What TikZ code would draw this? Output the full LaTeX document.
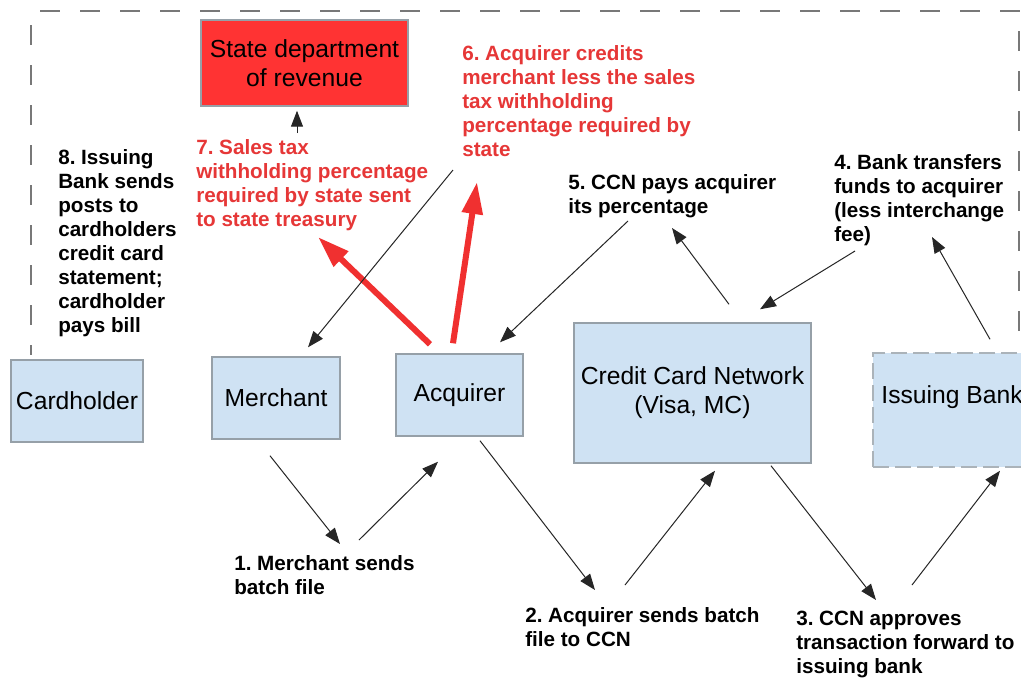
\documentclass[tikz,border=0pt]{standalone}
\usepackage{fontspec}
\setmainfont{Liberation Sans}
\frenchspacing
\usetikzlibrary{shapes, arrows.meta}

\definecolor{boxfill}{RGB}{207,226,243}
\definecolor{boxline}{RGB}{150,160,168}
\definecolor{taxred}{RGB}{255,51,51}
\definecolor{notered}{RGB}{230,55,55}
\definecolor{flowred}{RGB}{240,48,48}
\definecolor{framegray}{RGB}{120,120,120}

\begin{document}
\begin{tikzpicture}[x=0.75pt, y=-0.75pt,
  box/.style={draw=boxline, fill=boxfill, line width=1.1pt, inner sep=0pt, align=center, font=\fontsize{18.5}{21.75}\selectfont},
  note/.style={anchor=base west, inner sep=0pt, align=left, font=\fontsize{15.5}{18}\selectfont\bfseries},
  rednote/.style={note, text=notered},
  flow/.style={draw=black!85, line width=0.75pt, -{Triangle[length=12pt, width=9pt]}},
  taxflow/.style={draw=flowred, line width=4.5pt, -{Triangle[length=24pt, width=15pt]}},
  frame/.style={draw=framegray, line width=1.5pt, dash pattern=on 15pt off 15pt}]
\useasboundingbox (0,0) rectangle (1021,679);
\clip (0,0) rectangle (1021,679);
\fill[white] (0,0) rectangle (1021,679);

\draw[frame] (31,25) -- (31,355);
\draw[frame] (40,11) -- (1021,11);
\draw[frame] (1019,31) -- (1019,335);

\node[box, fill=taxred, minimum width=155.25pt, minimum height=64.5pt] (dor) at (304.5,63) {State department\\of revenue};
\node[box, minimum width=99pt, minimum height=61.5pt] (card) at (77,401) {Cardholder};
\node[box, minimum width=96pt, minimum height=61.5pt] (merch) at (276,398) {Merchant};
\node[box, minimum width=95.25pt, minimum height=61.5pt] (acq) at (459.5,395) {Acquirer};
\node[box, minimum width=177.75pt, minimum height=105pt] (ccn) at (692.5,393) {Credit Card Network\\(Visa, MC)};
\node[box, draw=boxline!80, dash pattern=on 12pt off 4.5pt, text depth=22.8pt, minimum width=118.5pt, minimum height=85.5pt] (bank) at (952,410) {Issuing Bank};

\node[note] (s1) at (234,594) {1. Merchant sends\\batch file};
\node[note] (s2) at (525,646) {2. Acquirer sends batch\\file to CCN};
\node[note] (s3) at (796,673) {3. CCN approves\\transaction forward to\\issuing bank};
\node[note] (s4) at (834,241) {4. Bank transfers\\funds to acquirer\\(less interchange\\fee)};
\node[note] (s5) at (568,213) {5. CCN pays acquirer\\its percentage};
\node[rednote] (s6) at (462,156) {6. Acquirer credits\\merchant less the sales\\tax withholding\\percentage required by\\state};
\node[rednote] (s7) at (196,226) {7. Sales tax\\withholding percentage\\required by state sent\\to state treasury};
\node[note] (s8) at (58,332) {8. Issuing\\Bank sends\\posts to\\cardholders\\credit card\\statement;\\cardholder\\pays bill};

\draw[taxflow] ([shift={(-29.5,-9)}]acq.north) -- ([shift={(122,11)}]s7.base west);
\draw[taxflow] ([shift={(-6.5,-10)}]acq.north) -- ([shift={(15,26)}]s6.base west);

\draw[flow] ([shift={(-6,16)}]merch.south) -- ([shift={(106,-50)}]s1.base west);
\draw[flow] ([shift={(125,-54)}]s1.base west) -- ([shift={(-21.5,25)}]acq.south);
\draw[flow] ([shift={(20.5,4)}]acq.south) -- ([shift={(70,-56)}]s2.base west);
\draw[flow] ([shift={(100,-61)}]s2.base west) -- ([shift={(22.5,7)}]ccn.south);
\draw[flow] ([shift={(78.5,2)}]ccn.south) -- ([shift={(80,-73)}]s3.base west);
\draw[flow] ([shift={(116,-88)}]s3.base west) -- ([shift={(48,3)}]bank.south);
\draw[flow] ([shift={(38,-13)}]bank.north) -- ([shift={(98,-4)}]s4.base west);
\draw[flow] ([shift={(21,10)}]s4.base west) -- ([shift={(67.5,-13)}]ccn.north);
\draw[flow] ([shift={(36.5,-18)}]ccn.north) -- ([shift={(104,15)}]s5.base west);
\draw[flow] ([shift={(60,8)}]s5.base west) -- ([shift={(40.5,-11)}]acq.north);
\draw[flow] ([shift={(-9,14)}]s6.base west) -- ([shift={(32,-9)}]merch.north);
\draw[flow] ([shift={(101,-93)}]s7.base west) -- ([shift={(-7.5,4)}]dor.south);
\end{tikzpicture}
\end{document}
